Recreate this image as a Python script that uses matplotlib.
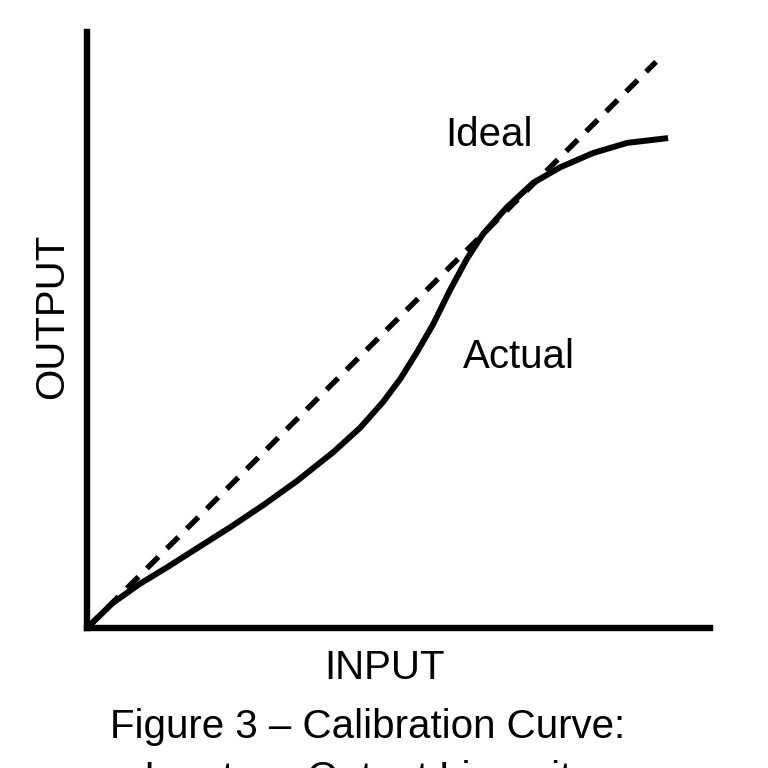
import matplotlib
matplotlib.use('Agg')
import matplotlib.pyplot as plt

plt.rcParams['font.family'] = ['Liberation Sans', 'DejaVu Sans']

# ideal (linear) response
ideal_x = [0.0, 9.5]
ideal_y = [0.0, 9.5]

actual_x = [0.0, 0.43, 0.88, 1.34, 1.84, 2.39, 2.94, 3.51, 4.11, 4.56, 4.94,
            5.23, 5.51, 5.78, 6.06, 6.34, 6.61, 7.01, 7.45, 7.90, 8.45, 9.02, 9.70]
actual_y = [0.0, 0.42, 0.74, 1.02, 1.34, 1.69, 2.06, 2.47, 2.95, 3.36, 3.79,
            4.18, 4.63, 5.10, 5.67, 6.19, 6.61, 7.06, 7.47, 7.73, 7.97, 8.14, 8.22]

fig = plt.figure(figsize=(7.68, 7.68), dpi=100)
ax = fig.add_axes([87 / 768, 140 / 768, 623 / 768, 596 / 768])

ax.plot(ideal_x, ideal_y, color='black', lw=3.9, linestyle=(0, (3.0, 2.2)),
        clip_on=False)
ax.plot(actual_x, actual_y, color='black', lw=4.3, solid_joinstyle='round',
        solid_capstyle='butt', clip_on=False)

ax.text(5.98, 8.09, 'Ideal', fontsize=29, va='baseline', ha='left')
ax.text(6.28, 4.36, 'Actual', fontsize=29, va='baseline', ha='left')

ax.set_xlim(0, 10.4)
ax.set_ylim(0, 10)
ax.set_xticks([])
ax.set_yticks([])
for side in ['top', 'right']:
    ax.spines[side].set_visible(False)
for side in ['left', 'bottom']:
    ax.spines[side].set_linewidth(4.6)

ax.set_xlabel('INPUT', fontsize=29, va='baseline')
ax.xaxis.set_label_coords(0.478, -0.0856)
ax.set_ylabel('OUTPUT', fontsize=29, rotation=90, rotation_mode='default',
              ha='left', va='center')
ax.yaxis.set_label_coords(-0.0867, 0.523)

# caption: second line runs off the bottom edge, as in the original
fig.text(368 / 768, 1 - 790 / 768,
         'Figure 3 – Calibration Curve:\nInput vs. Output Linearity',
         fontsize=29, ha='center', va='baseline', multialignment='center',
         linespacing=1.46)

fig.savefig('out.png', dpi=100)
